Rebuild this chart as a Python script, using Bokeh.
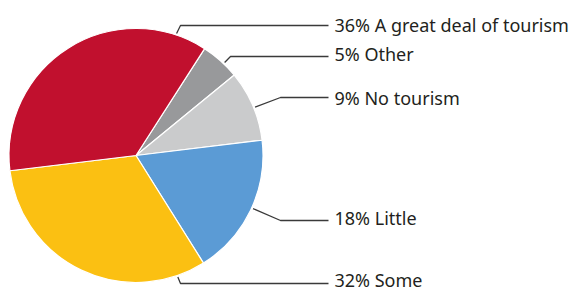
import math
from bokeh.plotting import figure
from bokeh.models import Range1d, ColumnDataSource
from bokeh.embed import file_html
from bokeh.resources import INLINE
from bokeh.core.properties import value

# data
categories = ["Other", "No tourism", "Little", "Some", "A great deal of tourism"]
percents = [5, 9, 18, 32, 36]
colors = ["#98999b", "#cacbcc", "#5b9bd5", "#fbc012", "#c1102e"]

# layout (pixel space of the screenshot, converted below)
W, H = 579, 290
def X(px): return px
def Y(py): return H - py

cx, cy, R = X(135.5), Y(155), 127
start_deg = 32.7  # clockwise from top
anchor_deg = [43.6, 67.9, 114.4, 161.0, 18.4]
elbow_px = [(230, 56), (280, 97), (280, 220), (180, 283), (180, 25)]
text_py = [53, 97, 217, 279, 24]
line_end_px = 328
text_px = 334

p = figure(width=W, height=H, output_backend="svg", toolbar_location=None,
           x_range=Range1d(0, W), y_range=Range1d(0, H), min_border=0)
p.axis.visible = False
p.grid.visible = False
p.outline_line_color = None

total = sum(percents)
starts, ends = [], []
acc = start_deg
for v in percents:
    a0 = acc
    a1 = acc + v / total * 360.0
    starts.append(math.radians(90 - a0))
    ends.append(math.radians(90 - a1))
    acc = a1

src = ColumnDataSource(dict(start=starts, end=ends, color=colors))
p.wedge(x=cx, y=cy, radius=R, start_angle="start", end_angle="end",
        direction="clock", fill_color="color", line_color="white",
        line_width=1.2, source=src)

for i, v in enumerate(percents):
    a = math.radians(anchor_deg[i])
    sx = cx + (R + 1.5) * math.sin(a)
    sy = cy + (R + 1.5) * math.cos(a)
    ex, ey = elbow_px[i]
    p.line([sx, X(ex), X(line_end_px)], [sy, Y(ey), Y(ey)],
           line_color="#3a3a3a", line_width=1.3)
    p.text(x=[X(text_px)], y=[Y(text_py[i])], text=[f"{v}% {categories[i]}"],
           text_font=value("Noto Sans"), text_font_size="18px",
           text_color="#231f20", text_baseline="middle", text_align="left")

open("out.html", "w").write(file_html(p, INLINE))
